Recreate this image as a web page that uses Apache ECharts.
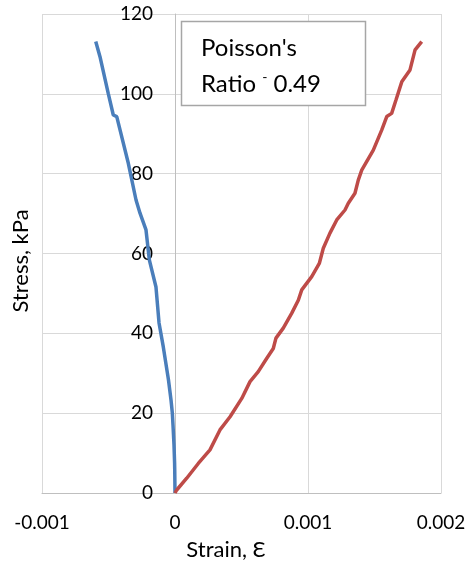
<!DOCTYPE html>
<html><head><meta charset="utf-8">
<script src="https://cdn.jsdelivr.net/npm/echarts@6/dist/echarts.min.js"></script>
<style>html,body{margin:0;padding:0;background:#fff}#c{width:468px;height:567px}</style>
</head><body><div id="c"></div>
<script>
const lateralStrain = [0,-0.000002,-0.000003,-0.0000075,-0.000015,-0.00002,-0.00003,-0.000049,-0.000088,-0.00012,-0.000143,-0.000193,-0.000218,-0.000263,-0.000293,-0.000351,-0.000438,-0.000464,-0.000502,-0.000564,-0.000596];
const lateralStress = [0,5.8,7.5,12,17,20,23.3,28.3,36.6,42.6,51.6,58.4,65.9,70.1,73.4,82.6,94.3,94.7,100.1,109.3,113.1];
const axialStrain = [0,0.0000128,0.000088,0.000175,0.000263,0.000338,0.000414,0.000502,0.000564,0.000626,0.000689,0.000739,0.000759,0.000814,0.000877,0.000927,0.000953,0.001028,0.001085,0.001115,0.001165,0.001216,0.001278,0.001303,0.001353,0.001378,0.001404,0.001491,0.001554,0.001592,0.001629,0.001662,0.001705,0.001767,0.001805,0.001855];
const axialStress = [0,0.75,3.7,7.4,10.8,15.8,19.1,23.7,27.9,30.4,33.7,36.2,38.8,41.3,45.0,48.3,50.9,54.2,57.5,61.3,65.1,68.4,70.9,72.6,75.1,78.4,80.9,85.9,90.9,94.3,95.1,98.5,103.0,106.0,111.0,113.1];
const xTicks = {min:-0.001, max:0.002, step:0.001};
const yTicks = {min:0, max:120, step:20};
const boxLines = ["Poisson's", "Ratio"];
const ratioText = "0.49";

const FONT = 'Lato';
const GL = 42, GR = 27;
const plotW = 468 - GL - GR;
const chart = echarts.init(document.getElementById('c'));
const zip = (a,b)=>a.map((v,i)=>[v,b[i]]);
const zeroOffset = -plotW * (0 - xTicks.min) / (xTicks.max - xTicks.min);
chart.setOption({
  animation:false,
  grid:{left:GL,right:GR,top:14,bottom:74,containLabel:false,outerBoundsMode:'none'},
  xAxis:{type:'value',min:xTicks.min,max:xTicks.max,interval:xTicks.step,
    axisLine:{show:true,onZero:false,lineStyle:{color:'#bfbfbf',width:1}},
    axisTick:{show:false},
    splitLine:{show:true,lineStyle:{color:'#d9d9d9',width:1}},
    axisLabel:{margin:20,fontFamily:FONT,fontSize:19,color:'#000',
      formatter:v=>{const r=Math.round(v*1e6)/1e6;return r===0?'0':String(r);}}
  },
  yAxis:{type:'value',min:yTicks.min,max:yTicks.max,interval:yTicks.step,offset:zeroOffset,
    axisLine:{show:true,onZero:false,lineStyle:{color:'#bfbfbf',width:1}},
    axisTick:{show:false},
    splitLine:{show:true,lineStyle:{color:'#d9d9d9',width:1}},
    axisLabel:{margin:22,fontFamily:FONT,fontSize:19,color:'#000'}
  },
  series:[
    {type:'line',data:zip(lateralStrain,lateralStress),showSymbol:false,smooth:false,
      lineStyle:{color:'#4a7ebb',width:3.5},itemStyle:{color:'#4a7ebb'}},
    {type:'line',data:zip(axialStrain,axialStress),showSymbol:false,smooth:false,
      lineStyle:{color:'#be4b48',width:3.5},itemStyle:{color:'#be4b48'}}
  ],
  graphic:[
    {type:'rect',shape:{x:181.5,y:21.5,width:184,height:84},style:{fill:'#fff',stroke:'#a6a6a6',lineWidth:1.5},z:100},
    {type:'text',x:201,y:48,style:{text:boxLines[0],font:'24px '+FONT,fill:'#000',verticalAlign:'middle'},z:101},
    {type:'text',x:201,y:84,style:{text:'{a|'+boxLines[1]+' }{s|-}{a| '+ratioText+'}',verticalAlign:'middle',
      rich:{a:{font:'24px '+FONT,fill:'#000'},s:{font:'14px '+FONT,fill:'#000',padding:[0,0,14,0]}}},z:101},
    {type:'text',x:21,y:261,rotation:Math.PI/2,style:{text:'Stress, kPa',font:'22px '+FONT,fill:'#000',align:'center',verticalAlign:'middle'}},
    {type:'text',x:226,y:550,style:{text:'Strain, Ɛ',font:'22px '+FONT,fill:'#000',align:'center',verticalAlign:'middle'}}
  ]
});
</script></body></html>
